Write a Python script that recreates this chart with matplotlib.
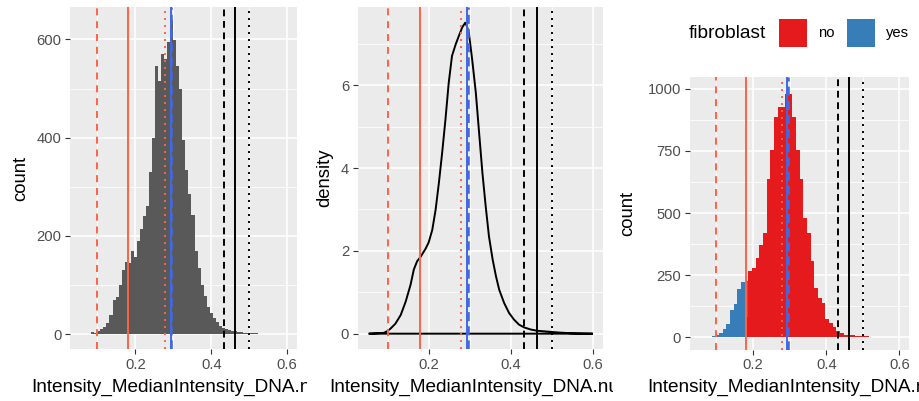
import matplotlib
matplotlib.use("Agg")
import matplotlib.pyplot as plt
from matplotlib.ticker import MultipleLocator
from matplotlib.transforms import Bbox
from matplotlib.patches import Rectangle

plt.rcParams['font.family'] = ['Liberation Sans', 'DejaVu Sans']

# ---- data ----
xlabel = "Intensity_MedianIntensity_DNA.nucl"

# panel 1: histogram of all cells (bin width 0.008, first bin starts 0.084)
hist_start = 0.084
hist_width = 0.008
hist_counts = [4, 3, 7, 10, 15, 22, 40, 70, 76, 100,
               130, 147, 145, 170, 158, 190, 215, 240, 262, 330,
               400, 545, 515, 570, 560, 595, 640, 598, 545, 500,
               395, 335, 285, 243, 170, 135, 100, 78, 55, 43,
               33, 24, 16, 13, 11, 8, 7, 6, 4, 4,
               3, 3, 2, 2, 2, 1, 1, 1, 1, 0,
               0, 1, 0, 0]

# panel 2: density curve
dens_x = [0.054, 0.091, 0.099, 0.107, 0.119, 0.132, 0.144, 0.156, 0.164, 0.172,
          0.180, 0.192, 0.200, 0.209, 0.217, 0.225, 0.233, 0.241, 0.249, 0.257,
          0.266, 0.274, 0.282, 0.290, 0.298, 0.306, 0.315, 0.323, 0.331, 0.339,
          0.347, 0.356, 0.364, 0.372, 0.384, 0.396, 0.408, 0.420, 0.433, 0.449,
          0.465, 0.490, 0.514, 0.547, 0.600]
dens_y = [0, 0.02, 0.06, 0.12, 0.24, 0.45, 0.77, 1.18, 1.55, 1.75,
          1.85, 2.04, 2.2, 2.51, 2.99, 3.64, 4.37, 5.17, 6.06, 6.71,
          6.99, 7.2, 7.4, 7.52, 7.27, 6.63, 5.82, 4.85, 3.89, 3.08,
          2.35, 1.79, 1.39, 1.06, 0.74, 0.5, 0.34, 0.22, 0.15, 0.10,
          0.07, 0.05, 0.03, 0.01, 0]

# panel 3: histogram split by fibroblast (bin width 0.01, first bin starts 0.0775)
fib_start = 0.0775
fib_width = 0.01
fib_no = [0, 0, 0, 0, 0, 0, 0, 0, 0, 0,
          80, 267, 278, 318, 370, 418, 637, 754, 887, 927,
          927, 979, 979, 887, 754, 637, 480, 419, 306, 197,
          157, 137, 73, 56, 40, 24, 16, 10, 10, 8,
          6, 3, 3, 3, 1, 1, 1, 1]
fib_yes = [2, 5, 8, 15, 33, 53, 110, 135, 195, 222,
           148, 0, 0, 0, 0, 0, 0, 0, 0, 0,
           0, 0, 0, 0, 0, 0, 0, 0, 0, 0,
           0, 0, 0, 0, 0, 0, 0, 0, 0, 0,
           0, 0, 0, 0, 0, 0, 0, 0]
fib_levels = ['no', 'yes']
fib_colors = ['#E41A1C', '#377EB8']

# threshold lines
red_lines = [0.100, 0.180, 0.279]
blue_line = 0.294
black_lines = [0.433, 0.463, 0.500]

# ---- figure ----
W, H = 920, 401
fig = plt.figure(figsize=(W / 100, H / 100), dpi=100)


def px_axes(x0, y0, x1, y1):
    # pixel box (top-left origin) -> figure fraction
    return fig.add_axes([x0 / W, 1 - y1 / H, (x1 - x0) / W, (y1 - y0) / H])


def style(ax, xminor, yminor):
    ax.set_facecolor('#EBEBEB')
    for s in ax.spines.values():
        s.set_visible(False)
    ax.set_axisbelow(True)
    ax.xaxis.set_major_locator(MultipleLocator(0.2))
    ax.xaxis.set_minor_locator(MultipleLocator(xminor))
    ax.yaxis.set_minor_locator(MultipleLocator(yminor))
    ax.grid(which='major', color='white', lw=1.1)
    ax.grid(which='minor', color='white', lw=0.55)
    ax.tick_params(which='major', length=3.8, width=0.8, color='#333333',
                   labelcolor='#4D4D4D', labelsize=10.6, pad=2.5)
    ax.tick_params(which='minor', length=0)
    ax.set_xlim(0.028, 0.626)


def vlines(ax):
    lw = 1.4
    ax.axvline(red_lines[0], color='tomato', lw=lw, ls=(0, (3.6, 3.0)))
    ax.axvline(red_lines[1], color='tomato', lw=lw)
    ax.axvline(red_lines[2], color='tomato', lw=lw, ls=(0, (1, 2.6)))
    ax.axvline(blue_line, color='royalblue', lw=lw)
    ax.axvline(blue_line + 0.001, color='royalblue', lw=lw * 1.3, ls=(0, (3.6, 2.0)))
    ax.axvline(black_lines[0], color='black', lw=lw, ls=(0, (3.5, 2.4)))
    ax.axvline(black_lines[1], color='black', lw=lw)
    ax.axvline(black_lines[2], color='black', lw=lw, ls=(0, (1, 2.6)))


# panel 1
ax1 = px_axes(70, 7, 297, 349)
style(ax1, 0.1, 100)
left1 = [hist_start + i * hist_width for i in range(len(hist_counts))]
ax1.bar(left1, hist_counts, width=hist_width, align='edge', color='#595959', lw=0)
ax1.yaxis.set_major_locator(MultipleLocator(200))
ax1.set_ylim(-30, 666)
vlines(ax1)

# panel 2
ax2 = px_axes(358, 7, 603.5, 349)
style(ax2, 0.1, 1)
ax2.fill(dens_x, dens_y, facecolor='none', edgecolor='black', lw=1.4)
ax2.yaxis.set_major_locator(MultipleLocator(2))
ax2.set_ylim(-0.37, 7.89)
vlines(ax2)

# panel 3
ax3 = px_axes(690, 77, 909, 349.5)
style(ax3, 0.1, 125)
left3 = [fib_start + i * fib_width for i in range(len(fib_no))]
ax3.bar(left3, fib_no, width=fib_width, align='edge', color=fib_colors[0], lw=0)
ax3.bar(left3, fib_yes, width=fib_width, align='edge', bottom=fib_no,
        color=fib_colors[1], lw=0)
ax3.yaxis.set_major_locator(MultipleLocator(250))
ax3.set_ylim(-50, 1048)
vlines(ax3)

# axis titles (x titles clipped to their own third, as in the original layout)
title_size = 13.3
for i, (x0, x1) in enumerate([(70, 297), (358, 603.5), (690, 909)]):
    t = fig.text((x0 + x1) / 2 / W, 1 - 387 / H, xlabel, ha='center', va='center',
                 fontsize=13.7, color='black')
    t.set_clip_on(True)
    t.set_clip_box(Bbox.from_extents(i * W / 3, 0, (i + 1) * W / 3, H))

fig.text(21 / W, 1 - 178 / H, 'count', rotation=90, ha='center', va='center',
         fontsize=title_size)
fig.text(325 / W, 1 - 178 / H, 'density', rotation=90, ha='center', va='center',
         fontsize=title_size)
fig.text(628 / W, 1 - 213 / H, 'count', rotation=90, ha='center', va='center',
         fontsize=title_size)

# legend (drawn by hand to match the ggplot key layout)
fig.text(689 / W, 1 - 33 / H, 'fibroblast', ha='left', va='center', fontsize=13.8)
key_x = [779, 847]
for kx, lab, col in zip(key_x, fib_levels, fib_colors):
    fig.add_artist(Rectangle((kx / W, 1 - 47 / H), 28 / W, 28 / H,
                             transform=fig.transFigure, facecolor=col,
                             edgecolor='none'))
    fig.text((kx + 39) / W, 1 - 33 / H, lab, ha='left', va='center',
             fontsize=10.6, color='black')

fig.savefig('out.png', dpi=100)
